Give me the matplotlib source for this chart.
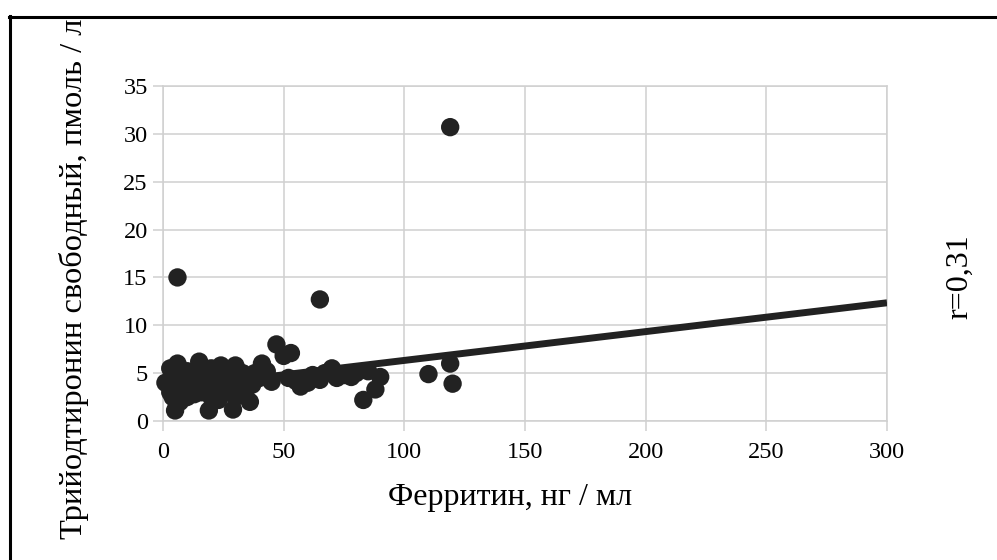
import matplotlib
matplotlib.use('Agg')
import matplotlib.pyplot as plt
from matplotlib.lines import Line2D

plt.rcParams['font.family'] = ['Liberation Serif', 'DejaVu Serif']

# ferritin (ng/ml) vs free T3 (pmol/l)
ferritin = [1, 3, 3, 4, 5, 5, 6, 6, 7, 7, 8, 9, 10, 10, 11, 12, 13, 14, 15, 15,
            16, 17, 18, 19, 20, 20, 21, 22, 23, 24, 25, 26, 27, 28, 29, 30, 30,
            31, 32, 33, 34, 35, 36, 37, 38, 40, 41, 43, 45,
            47, 50, 53, 52, 55, 57, 60, 62, 65, 65, 67, 70, 72, 75, 78, 80, 83,
            85, 88, 90,
            110, 119, 120, 119, 6]
t3_free = [4.0, 5.5, 3.0, 2.5, 1.1, 4.5, 6.0, 3.5, 2.0, 5.0, 3.0, 4.0, 2.5, 5.2,
           3.5, 4.5, 2.8, 3.8, 6.2, 4.8, 3.0, 5.0, 4.0, 1.1, 2.5, 5.5, 3.5, 4.5,
           2.2, 5.8, 3.8, 4.8, 3.0, 5.2, 1.2, 5.8, 2.5, 4.2, 3.5, 5.0, 2.8, 4.5,
           2.0, 3.8, 5.0, 4.5, 6.0, 5.2, 4.1,
           8.0, 6.8, 7.1, 4.5, 4.2, 3.6, 4.0, 4.8, 12.7, 4.3, 5.0, 5.5, 4.5, 4.8,
           4.6, 5.0, 2.2, 5.2, 3.3, 4.6,
           4.9, 6.0, 3.9, 30.7, 15.0]

# linear trend as drawn in the source
trend_x = [0, 300]
trend_y = [3.32, 12.35]

fig = plt.figure(figsize=(9.97, 5.6), dpi=100)
ax = fig.add_axes([163 / 997, 1 - 421 / 560, (887 - 163) / 997, (421 - 86) / 560])

ax.plot(trend_x, trend_y, color='#222222', lw=5, solid_capstyle='butt', zorder=3)
ax.scatter(ferritin, t3_free, s=175, color='#222222', edgecolors='none', zorder=4,
           clip_on=False)

ax.set_xlim(0, 300)
ax.set_ylim(0, 35)
ax.set_xticks(range(0, 301, 50))
ax.set_yticks(range(0, 36, 5))
ax.grid(True, color='#d0d0d0', lw=1.1)
ax.set_axisbelow(True)
for sp in ax.spines.values():
    sp.set_color('#d0d0d0')
    sp.set_linewidth(1.1)
ax.tick_params(axis='both', colors='#d0d0d0', length=7, width=1.1,
               labelcolor='black', labelsize=17.5, direction='out')
ax.tick_params(axis='x', pad=8)
ax.tick_params(axis='y', pad=4)

fig.text(510 / 997, 1 - 498 / 560, 'Ферритин, нг / мл', fontsize=23,
         ha='center', va='center')
fig.text(74 / 997, 1 - 279 / 560, 'Трийодтиронин свободный, пмоль / л',
         fontsize=23.4, rotation=90, ha='center', va='center')
fig.text(960 / 997, 1 - 277 / 560, 'r=0,31', fontsize=23, rotation=90,
         ha='center', va='center')

# outer frame (only left and top visible in the crop)
fig.add_artist(Line2D([9.5 / 997, 9.5 / 997], [0, 1 - 16 / 560],
                      transform=fig.transFigure, color='black', lw=2.2))
fig.add_artist(Line2D([8.5 / 997, 1], [1 - 16.5 / 560, 1 - 16.5 / 560],
                      transform=fig.transFigure, color='black', lw=2.2))

fig.savefig('out.png', dpi=100)
